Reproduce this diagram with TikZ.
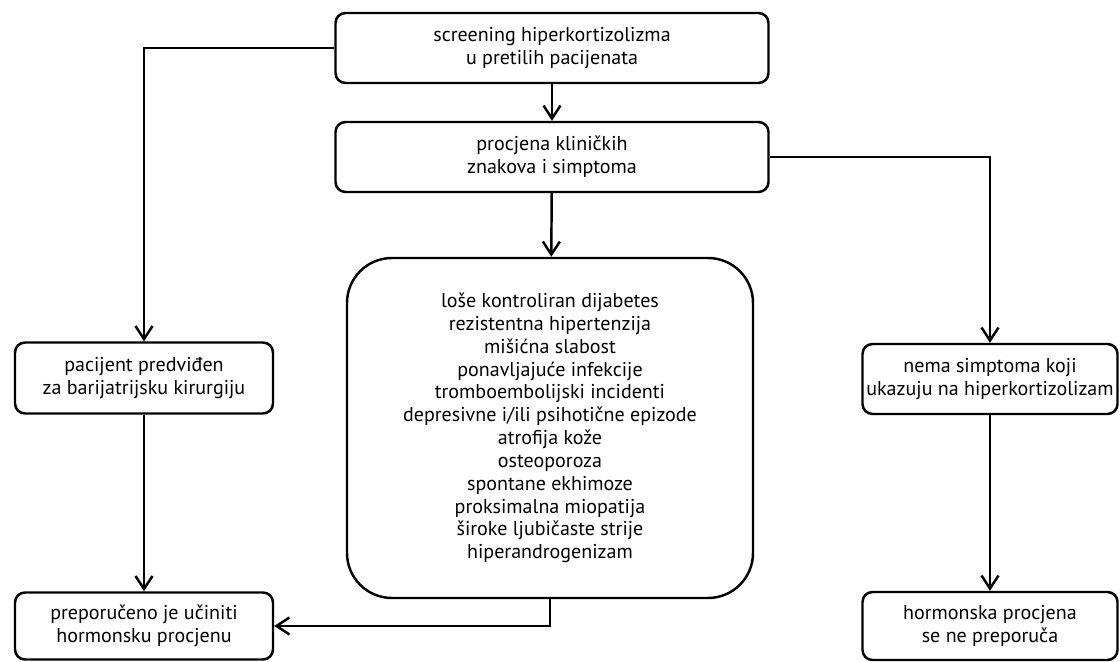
\documentclass[tikz,border=0pt]{standalone}
\usepackage{fontspec}
\setmainfont{PT Sans}
\usetikzlibrary{arrows.meta}
\usetikzlibrary{positioning}

\begin{document}
\begin{tikzpicture}[
    x=0.02cm, y=-0.02cm,
    box/.style={draw, rounded corners=0.2cm, line width=1.4pt, align=center,
                inner sep=0pt, font=\fontsize{11.4}{13}\selectfont},
    listbox/.style={box, rounded corners=0.9cm},
    >={Straight Barb[length=2.6mm, width=3.4mm]}
]
\useasboundingbox (0,0) rectangle (1120,662);

% --- Top boxes ---
\node[box, minimum width=433*0.02cm, minimum height=70*0.02cm] (screen) at (552,48)
    {screening hiperkortizolizma\\u pretilih pacijenata};
\node[box, minimum width=433*0.02cm, minimum height=70*0.02cm] (procj) at (552,157)
    {procjena kliničkih\\znakova i simptoma};

% --- Symptom list ---
\node[listbox, minimum width=406*0.02cm, minimum height=340*0.02cm] (simpt) at (550,428)
    {loše kontroliran dijabetes\\rezistentna hipertenzija\\mišićna slabost\\
     ponavljajuće infekcije\\tromboembolijski incidenti\\
     depresivne i/ili psihotične epizode\\atrofija kože\\osteoporoza\\
     spontane ekhimoze\\proksimalna miopatija\\široke ljubičaste strije\\
     hiperandrogenizam};

% --- Left column ---
\node[box, minimum width=258*0.02cm, minimum height=71*0.02cm] (barij) at (144,378)
    {pacijent predviđen\\za barijatrijsku kirurgiju};
\node[box, minimum width=258*0.02cm, minimum height=67*0.02cm] (prep) at (144,626)
    {preporučeno je učiniti\\hormonsku procjenu};

% --- Right column ---
\node[box, minimum width=255*0.02cm, minimum height=70*0.02cm] (nema) at (990,379)
    {nema simptoma koji\\ukazuju na hiperkortizolizam};
\node[box, minimum width=255*0.02cm, minimum height=68*0.02cm] (nepre) at (990,626)
    {hormonska procjena\\se ne preporuča};

% --- Connectors ---
\draw[->, line width=1.4pt] (screen) -- (procj);
\draw[->, line width=1.4pt] (procj) -- (simpt);
\draw[->, line width=1.4pt] (screen.west) -| (barij.north);
\draw[->, line width=1.4pt] (procj.east) -| (nema.north);
\draw[->, line width=1.4pt] (barij) -- (prep);
\draw[->, line width=1.4pt] (nema) -- (nepre);
\draw[->, line width=1.4pt] (simpt.south) |- (prep.east);

\end{tikzpicture}
\end{document}
